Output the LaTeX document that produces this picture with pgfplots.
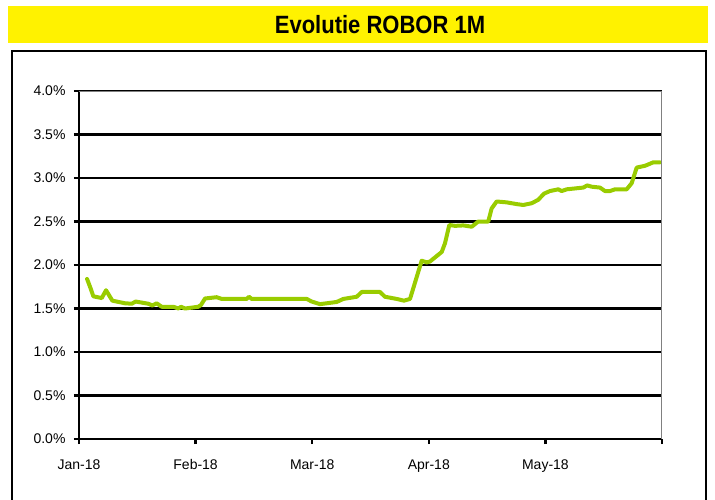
\documentclass[border=0pt]{standalone}
\usepackage{pgfplots}
\pgfplotsset{compat=1.18}
\usepackage{fontspec}
\setmainfont{Liberation Sans}
\newfontfamily\titlefont[FakeStretch=0.88]{Liberation Sans}
\definecolor{robor}{HTML}{99CC00}
\begin{document}
\begin{tikzpicture}[x=1pt,y=1pt]
% axis origin (lower left of plot area) sits at image pixel (79,439)
\useasboundingbox (-79,439) rectangle (636,-60);
\fill[yellow] (-71,433) rectangle (629,396);
\node at (301,414.5) {\titlefont\bfseries\fontsize{25}{29}\selectfont Evolutie ROBOR 1M};
\draw[black, line width=2pt] (-67,-80) -- (-67,388) -- (627,388) -- (627,-80);
\begin{axis}[
  width=583pt, height=348pt, scale only axis,
  xmin=0, xmax=5, ymin=0, ymax=4,
  axis x line*=bottom, axis y line*=left,
  axis line style={black, line width=2.6pt},
  xtick={0,1,2,3,4,5},
  xticklabels={Jan-18,Feb-18,Mar-18,Apr-18,May-18,{}},
  ytick={0,0.5,1,1.5,2,2.5,3,3.5,4},
  yticklabel={\pgfmathprintnumber[fixed,fixed zerofill,precision=1]{\tick}\%},
  /pgf/number format/assume math mode=true,
  ymajorgrids, grid style={black, line width=2.6pt},
  tick align=outside, major tick length=5pt,
  tick style={black, line width=2.4pt},
  ticklabel style={font=\fontsize{14}{16}\selectfont},
  yticklabel style={xshift=-5pt},
  xticklabel style={yshift=-12pt, text height=10pt, text depth=3pt},
]
\addplot[robor, line width=4pt, line join=round, line cap=round] coordinates {
(0.069,1.84) (0.100,1.73) (0.123,1.64) (0.195,1.62) (0.232,1.71) (0.286,1.59)
(0.395,1.56) (0.452,1.555) (0.486,1.58) (0.594,1.555) (0.629,1.535) (0.666,1.56)
(0.709,1.52) (0.809,1.52) (0.852,1.50) (0.875,1.52) (0.909,1.50) (1.023,1.52)
(1.046,1.54) (1.081,1.615) (1.181,1.63) (1.224,1.61) (1.438,1.61) (1.458,1.635)
(1.481,1.61) (1.953,1.61) (1.996,1.58) (2.067,1.55) (2.210,1.575) (2.267,1.61)
(2.382,1.635) (2.425,1.69) (2.581,1.69) (2.624,1.635) (2.725,1.61) (2.787,1.59)
(2.839,1.61) (2.939,2.05) (2.982,2.03) (3.010,2.04) (3.111,2.15) (3.139,2.25)
(3.176,2.46) (3.225,2.45) (3.296,2.455) (3.368,2.44) (3.424,2.50) (3.510,2.50)
(3.539,2.65) (3.582,2.73) (3.668,2.72) (3.754,2.70) (3.810,2.69) (3.883,2.71)
(3.939,2.75) (3.988,2.82) (4.039,2.85) (4.111,2.87) (4.140,2.85) (4.183,2.87)
(4.325,2.89) (4.359,2.915) (4.397,2.90) (4.468,2.89) (4.511,2.85) (4.554,2.85)
(4.597,2.87) (4.697,2.87) (4.740,2.94) (4.783,3.12) (4.854,3.14) (4.925,3.18)
(4.983,3.18)
};
\draw[gray, line width=1.5pt] (axis cs:0,4) -- (axis cs:5,4) -- (axis cs:5,0);
\end{axis}
\end{tikzpicture}
\end{document}
